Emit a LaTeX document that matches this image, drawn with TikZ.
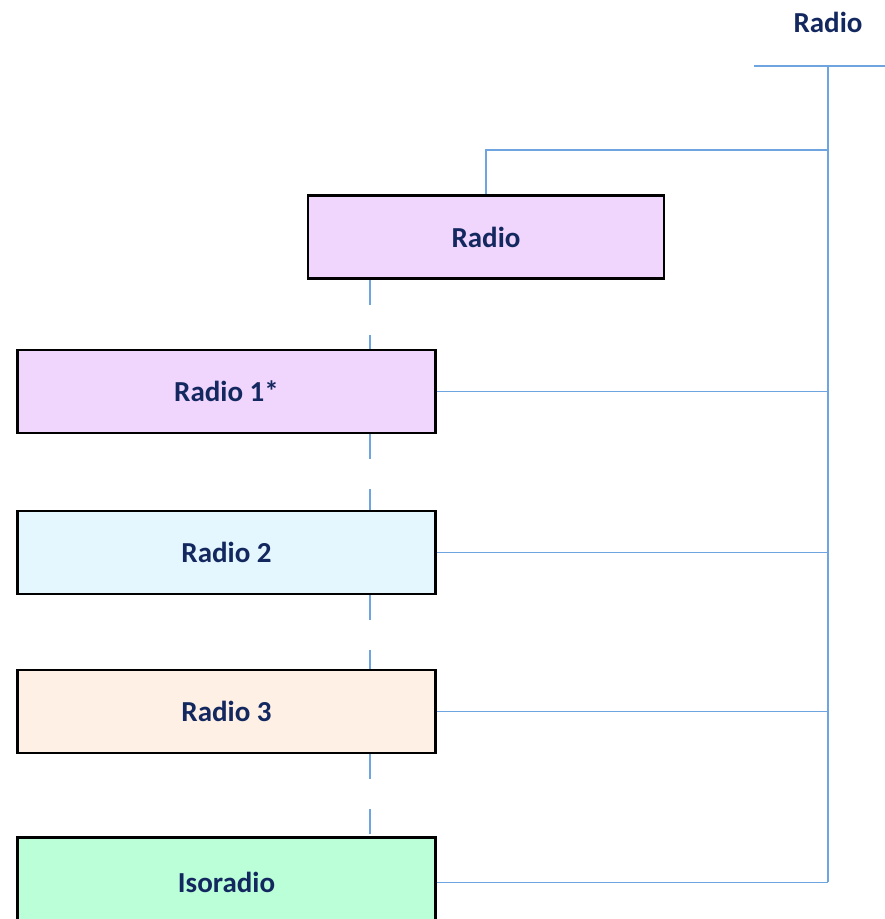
\documentclass[tikz,border=0pt]{standalone}
\usepackage{fontspec}
\setmainfont{Carlito}
\usepackage{xcolor}
\usetikzlibrary{positioning}

\definecolor{navytext}{RGB}{20,40,96}
\definecolor{linkblue}{RGB}{110,165,225}
\definecolor{lilac}{RGB}{240,213,252}
\definecolor{iceblue}{RGB}{228,247,254}
\definecolor{peach}{RGB}{254,240,228}
\definecolor{mint}{RGB}{187,255,216}

\tikzset{
  station/.style={draw=black, line width=1.5pt, font=\fontsize{16.5}{20}\selectfont\bfseries,
    text=navytext, minimum height=1.66cm, inner sep=0pt},
  wide/.style={station, minimum width=8.36cm},
  bus/.style={draw=linkblue, line width=0.8pt},
  spine link/.style={draw=linkblue, line width=0.8pt, dash pattern=on 0.5cm off 0.6cm}
}

\begin{document}
\begin{tikzpicture}[x=0.02cm, y=-0.02cm]
      % page frame: 885 x 919
      \useasboundingbox (0,0) rectangle (885,919);
      \node[font=\fontsize{16.5}{20}\selectfont\bfseries, text=navytext] (head) at (828,22) {Radio};
      \coordinate (bustop) at (828,66);
      \coordinate (busleft) at (754,66);
      \coordinate (busright) at (885,66);
      \coordinate (spine) at (370,0);
      % boxes
      \node[station, fill=lilac, minimum width=7.12cm] (radio) at (486,237) {Radio};
      \node[wide, fill=lilac] (r1) at (226.5,391.5) {Radio 1*};
      \node[wide, fill=iceblue] (r2) at (226.5,552.5) {Radio 2};
      \node[wide, fill=peach] (r3) at (226.5,711.5) {Radio 3};
      % last box runs off the bottom edge
      \node[wide, fill=mint, anchor=north, minimum height=1.8cm] (iso) at (226.5,836) {Isoradio};
      \coordinate (busbottom) at (iso.east -| bustop);
      \coordinate (tap) at (828,150);
      % the bus on the right
      \draw[bus] (busleft) -- (busright);
      \draw[bus] (bustop) -- (busbottom);
      \draw[bus] (radio.north) |- (tap);
      \foreach \n in {r1,r2,r3,iso}
        \draw[bus] (\n.east) -- (\n.east -| bustop);
      % dashed links between the boxes
      \draw[spine link] (radio.south -| spine) -- (r1.north -| spine);
      \draw[spine link] (r1.south -| spine) -- (r2.north -| spine);
      \draw[spine link] (r2.south -| spine) -- (r3.north -| spine);
      \draw[spine link] (r3.south -| spine) -- (iso.north -| spine);
\end{tikzpicture}
\end{document}
